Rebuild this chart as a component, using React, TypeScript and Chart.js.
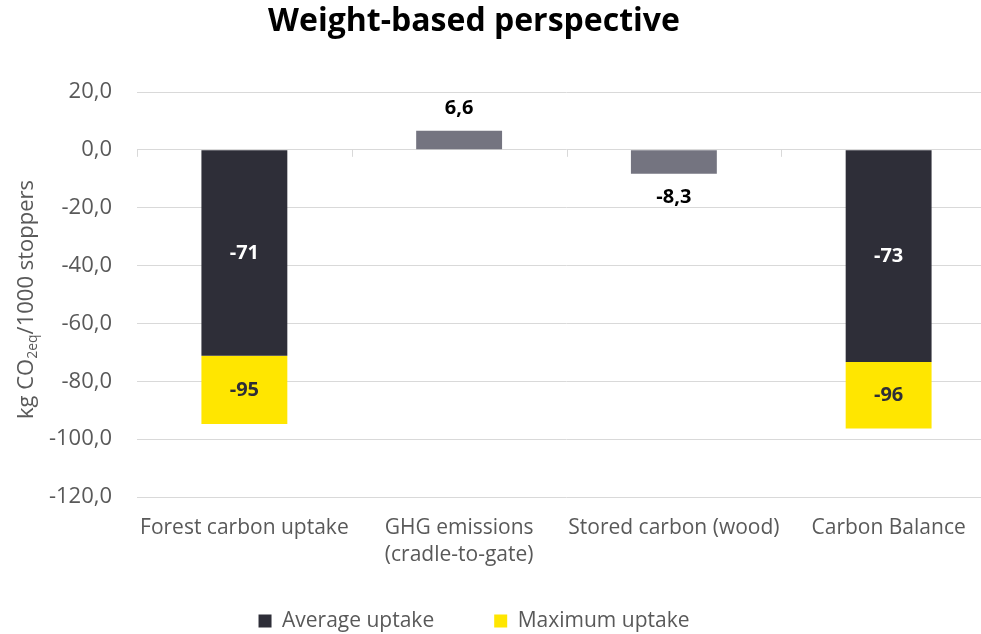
import React, { useEffect, useRef } from "react";
import { Chart, registerables } from "chart.js";

Chart.register(...registerables);

// ---- data ----
const categories: string[][] = [
  ["Forest carbon uptake"],
  ["GHG emissions", "(cradle-to-gate)"],
  ["Stored carbon (wood)"],
  ["Carbon Balance"],
];
const averageUptake: (number | null)[] = [-71.2, null, null, -73.3];
const maximumUptake: (number | null)[] = [-94.8, null, null, -96.3];
const otherValues: (number | null)[] = [null, 6.6, -8.3, null];
const seriesNames = ["Average uptake", "Maximum uptake", "Other"];
const chartTitle = "Weight-based perspective";
const yMin = -120;
const yMax = 20;
const yStep = 20;

// ---- style ----
const FONT = "'Open Sans'";
const DARK = "#2e2e38";
const YELLOW = "#ffe600";
const GREY = "#747480";
const TEXT = "#595959";
const GRID = "#d9d9d9";
const CANVAS_W = 1000;
const CANVAS_H = 634;

const fmtDec = (v: number) => Number(v).toFixed(1).replace(".", ",");
const fmtInt = (v: number) => String(Math.round(v));

const valueLabelPlugin = {
  id: "valueLabels",
  afterDatasetsDraw(chart: any) {
    const ctx = chart.ctx;
    ctx.save();
    ctx.font = `bold 20px ${FONT}`;
    ctx.textAlign = "center";
    ctx.textBaseline = "middle";
    chart.data.datasets.forEach((ds: any, di: number) => {
      const meta = chart.getDatasetMeta(di);
      meta.data.forEach((bar: any, i: number) => {
        const raw = ds.data[i];
        if (raw == null) return;
        const { x, y, base } = bar.getProps(["x", "y", "base"], true);
        let text = "";
        let ty = 0;
        let color = "#000";
        if (di === 0) {
          text = fmtInt(averageUptake[i] as number);
          ty = (y + base) / 2;
          color = "#ffffff";
        } else if (di === 1) {
          text = fmtInt(maximumUptake[i] as number);
          ty = (y + base) / 2;
          color = DARK;
        } else {
          text = fmtDec(otherValues[i] as number);
          ty = raw >= 0 ? y - 22 : y + 23;
          color = "#000000";
        }
        ctx.fillStyle = color;
        ctx.fillText(text, x, ty);
      });
    });
    ctx.restore();
  },
};

const categoryTickPlugin = {
  id: "categoryTicks",
  beforeDatasetsDraw(chart: any) {
    const xs = chart.scales.x;
    const ys = chart.scales.y;
    const ctx = chart.ctx;
    const n = categories.length;
    const w = (xs.right - xs.left) / n;
    const y0 = ys.getPixelForValue(0);
    ctx.save();
    ctx.strokeStyle = GRID;
    ctx.lineWidth = 1;
    for (let i = 0; i <= n; i++) {
      const bx = Math.round(xs.left + i * w) + 0.5;
      ctx.beginPath();
      ctx.moveTo(bx, y0);
      ctx.lineTo(bx, y0 + 7);
      ctx.stroke();
    }
    ctx.restore();
  },
};

const yTitlePlugin = {
  id: "yTitle",
  afterDraw(chart: any) {
    const ctx = chart.ctx;
    const area = chart.chartArea;
    const cy = (area.top + area.bottom) / 2 + 5;
    const mainFont = `22px ${FONT}`;
    const subFont = `14px ${FONT}`;
    const parts = [
      { t: "kg CO", sub: false },
      { t: "2eq", sub: true },
      { t: "/1000 stoppers", sub: false },
    ];
    ctx.save();
    let total = 0;
    const widths = parts.map((p) => {
      ctx.font = p.sub ? subFont : mainFont;
      const w = ctx.measureText(p.t).width;
      total += w;
      return w;
    });
    ctx.translate(33, cy);
    ctx.rotate(-Math.PI / 2);
    ctx.fillStyle = TEXT;
    ctx.textAlign = "left";
    ctx.textBaseline = "alphabetic";
    let x = -total / 2;
    parts.forEach((p, i) => {
      ctx.font = p.sub ? subFont : mainFont;
      ctx.fillText(p.t, x, p.sub ? 4 : 0);
      x += widths[i];
    });
    ctx.restore();
  },
};

export default function App() {
  const canvasRef = useRef<HTMLCanvasElement | null>(null);

  useEffect(() => {
    if (!canvasRef.current) return;
    const maxSegment = maximumUptake.map((v, i) =>
      v == null || averageUptake[i] == null ? null : v - (averageUptake[i] as number)
    );
    const chart = new Chart(canvasRef.current, {
      type: "bar",
      data: {
        labels: categories,
        datasets: [
          {
            label: seriesNames[0],
            data: averageUptake,
            backgroundColor: DARK,
            categoryPercentage: 1,
            barPercentage: 0.4,
          },
          {
            label: seriesNames[1],
            data: maxSegment,
            backgroundColor: YELLOW,
            categoryPercentage: 1,
            barPercentage: 0.4,
          },
          {
            label: seriesNames[2],
            data: otherValues,
            backgroundColor: GREY,
            categoryPercentage: 1,
            barPercentage: 0.4,
          },
        ] as any,
      },
      options: {
        responsive: false,
        animation: false,
        layout: { padding: { left: -48, right: 4, top: 0, bottom: 0 } },
        plugins: {
          title: {
            display: true,
            text: chartTitle,
            color: "#000000",
            font: { family: FONT, size: 32, weight: "bold", lineHeight: 1.2 },
            padding: { top: 3, bottom: 50.6 },
          },
          legend: {
            position: "bottom",
            maxHeight: 83.5,
            labels: {
              filter: (item: any) => item.datasetIndex < 2,
              boxWidth: 13,
              boxHeight: 13,
              padding: 60,
              color: TEXT,
              font: { family: FONT, size: 21 },
            },
          },
          tooltip: { enabled: false },
        },
        scales: {
          x: {
            stacked: true,
            grid: { display: false, drawTicks: false },
            border: { display: false },
            ticks: {
              color: TEXT,
              font: { family: FONT, size: 21, lineHeight: 1.3 },
              padding: 17.5,
              maxRotation: 0,
              minRotation: 0,
              autoSkip: false,
            },
            afterFit: (s: any) => {
              s.height = 53.5;
              s._computeLabelArea = () => undefined;
            },
          },
          y: {
            stacked: true,
            min: yMin,
            max: yMax,
            ticks: {
              stepSize: yStep,
              color: TEXT,
              font: { family: FONT, size: 22 },
              padding: 25,
              callback: (v: any) => fmtDec(Number(v)),
            },
            grid: { color: GRID, lineWidth: 1, drawTicks: false },
            border: { display: false },
            afterFit: (s: any) => {
              s.width = 185;
            },
          },
        },
      } as any,
      plugins: [categoryTickPlugin, valueLabelPlugin, yTitlePlugin],
    });
    return () => chart.destroy();
  }, []);

  return (
    <div
      style={{
        position: "absolute",
        left: 0,
        top: 0,
        width: 981,
        height: 634,
        overflow: "hidden",
      }}
    >
      <canvas
        ref={canvasRef}
        width={CANVAS_W}
        height={CANVAS_H}
        style={{ width: CANVAS_W, height: CANVAS_H, display: "block" }}
      />
    </div>
  );
}
